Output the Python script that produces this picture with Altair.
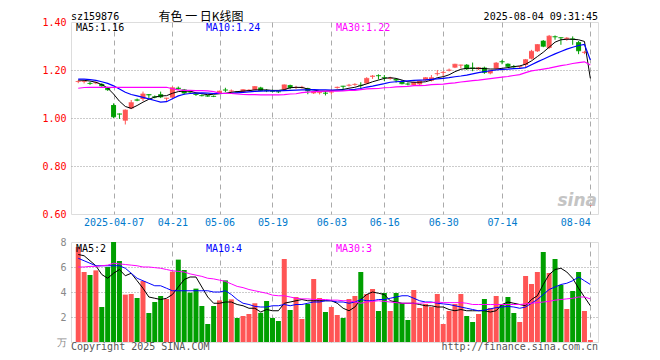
import json
import altair as alt
import pandas as pd

dates = ["03-27","03-28","03-31","04-01","04-02","04-03","04-07","04-08","04-09","04-10",
         "04-11","04-14","04-15","04-16","04-17","04-18","04-21","04-22","04-23","04-24",
         "04-25","04-28","04-29","04-30","05-06","05-07","05-08","05-09","05-12","05-13",
         "05-14","05-15","05-16","05-19","05-20","05-21","05-22","05-23","05-26","05-27",
         "05-28","05-29","05-30","06-03","06-04","06-05","06-06","06-09","06-10","06-11",
         "06-12","06-13","06-16","06-17","06-18","06-19","06-20","06-23","06-24","06-25",
         "06-26","06-27","06-30","07-01","07-02","07-03","07-04","07-07","07-08","07-09",
         "07-10","07-11","07-14","07-15","07-16","07-17","07-18","07-21","07-22","07-23",
         "07-24","07-25","07-28","07-29","07-30","07-31","08-01","08-04"]

opens = [1.150,1.150,1.146,1.145,1.142,1.128,1.054,1.018,0.989,1.040,
         1.077,1.079,1.099,1.090,1.099,1.081,1.085,1.126,1.119,1.110,
         1.101,1.095,1.094,1.092,1.102,1.118,1.111,1.110,1.109,1.113,
         1.117,1.127,1.115,1.113,1.111,1.119,1.137,1.125,1.126,1.124,
         1.103,1.104,1.105,1.107,1.125,1.134,1.135,1.138,1.138,1.144,
         1.172,1.178,1.170,1.164,1.162,1.154,1.143,1.137,1.140,1.157,
         1.155,1.183,1.188,1.198,1.210,1.219,1.222,1.210,1.203,1.210,
         1.186,1.206,1.236,1.226,1.216,1.212,1.221,1.247,1.278,1.322,
         1.292,1.340,1.336,1.330,1.331,1.316,1.272,0.635]
highs = [1.158,1.157,1.150,1.152,1.145,1.130,1.061,1.019,1.036,1.075,
         1.081,1.110,1.100,1.094,1.110,1.084,1.131,1.131,1.121,1.114,
         1.104,1.098,1.097,1.094,1.114,1.126,1.119,1.112,1.120,1.120,
         1.133,1.130,1.120,1.118,1.115,1.140,1.139,1.134,1.134,1.126,
         1.112,1.112,1.112,1.119,1.131,1.134,1.142,1.145,1.149,1.170,
         1.179,1.182,1.179,1.172,1.165,1.158,1.148,1.152,1.156,1.170,
         1.179,1.200,1.196,1.206,1.226,1.222,1.225,1.231,1.212,1.214,
         1.199,1.233,1.242,1.228,1.221,1.217,1.246,1.284,1.308,1.325,
         1.346,1.344,1.336,1.337,1.340,1.321,1.280,0.640]
lows = [1.145,1.144,1.138,1.141,1.130,1.113,1.000,0.996,0.973,1.037,
        1.070,1.071,1.082,1.082,1.083,1.071,1.083,1.118,1.098,1.104,
        1.092,1.090,1.088,1.087,1.100,1.108,1.104,1.105,1.105,1.110,
        1.115,1.112,1.108,1.106,1.104,1.117,1.120,1.121,1.122,1.099,
        1.100,1.098,1.094,1.098,1.122,1.117,1.131,1.134,1.124,1.142,
        1.163,1.161,1.154,1.160,1.148,1.140,1.136,1.133,1.137,1.155,
        1.152,1.176,1.172,1.194,1.208,1.207,1.200,1.195,1.200,1.184,
        1.182,1.202,1.224,1.210,1.209,1.208,1.211,1.244,1.275,1.295,
        1.288,1.326,1.305,1.322,1.305,1.266,1.266,0.634]
closes = [1.152,1.152,1.144,1.147,1.134,1.118,1.005,1.016,1.033,1.064,
          1.074,1.100,1.096,1.087,1.088,1.083,1.126,1.122,1.104,1.108,
          1.098,1.093,1.091,1.090,1.112,1.116,1.113,1.108,1.118,1.116,
          1.131,1.115,1.113,1.111,1.109,1.138,1.127,1.127,1.128,1.113,
          1.110,1.106,1.103,1.109,1.128,1.132,1.137,1.140,1.136,1.165,
          1.175,1.176,1.168,1.166,1.158,1.143,1.141,1.148,1.154,1.168,
          1.168,1.185,1.190,1.200,1.224,1.221,1.205,1.207,1.209,1.190,
          1.196,1.229,1.234,1.215,1.213,1.214,1.243,1.278,1.306,1.299,
          1.341,1.338,1.334,1.333,1.328,1.280,1.274,0.637]

ma5 = [1.158,1.157,1.154,1.149,1.139,1.125,1.100,1.070,1.048,1.040,
       1.052,1.066,1.078,1.087,1.092,1.093,1.103,1.110,1.112,1.112,
       1.105,1.101,1.097,1.099,1.101,1.103,1.107,1.110,1.112,1.114,
       1.117,1.117,1.117,1.115,1.115,1.118,1.126,1.128,1.127,1.121,
       1.117,1.112,1.112,1.114,1.117,1.119,1.124,1.128,1.135,1.142,
       1.151,1.158,1.165,1.168,1.165,1.158,1.151,1.149,1.149,1.151,
       1.158,1.168,1.172,1.180,1.193,1.203,1.207,1.207,1.207,1.206,
       1.204,1.204,1.207,1.210,1.214,1.217,1.224,1.238,1.256,1.274,
       1.295,1.316,1.326,1.328,1.328,1.326,1.319,1.165]
ma10 = [1.162,1.162,1.160,1.157,1.151,1.144,1.134,1.121,1.107,1.098,
        1.092,1.086,1.080,1.073,1.066,1.068,1.080,1.092,1.099,1.102,
        1.104,1.105,1.104,1.102,1.102,1.102,1.103,1.105,1.107,1.109,
        1.111,1.112,1.113,1.113,1.113,1.114,1.115,1.116,1.117,1.117,
        1.118,1.117,1.117,1.116,1.116,1.116,1.117,1.119,1.123,1.129,
        1.133,1.138,1.143,1.149,1.151,1.153,1.155,1.157,1.158,1.159,
        1.161,1.163,1.165,1.168,1.172,1.175,1.179,1.184,1.189,1.193,
        1.197,1.200,1.203,1.204,1.206,1.207,1.210,1.222,1.234,1.245,
        1.256,1.267,1.277,1.287,1.295,1.302,1.307,1.242]
ma30 = [1.124,1.127,1.128,1.128,1.128,1.128,1.128,1.128,1.128,1.128,
        1.128,1.128,1.128,1.128,1.128,1.128,1.122,1.117,1.115,1.115,
        1.114,1.114,1.113,1.110,1.104,1.103,1.102,1.100,1.098,1.097,
        1.097,1.096,1.096,1.096,1.096,1.097,1.100,1.101,1.106,1.108,
        1.110,1.111,1.112,1.112,1.112,1.113,1.115,1.115,1.118,1.121,
        1.122,1.123,1.126,1.127,1.130,1.131,1.132,1.135,1.135,1.136,
        1.139,1.140,1.141,1.144,1.146,1.150,1.153,1.156,1.158,1.161,
        1.164,1.167,1.170,1.173,1.177,1.181,1.189,1.196,1.200,1.204,
        1.208,1.213,1.218,1.222,1.227,1.231,1.234,1.221]

volume = [7.60,5.60,5.36,5.73,2.80,6.00,8.20,6.48,3.79,3.84,
          3.52,4.88,2.32,3.20,3.68,3.44,5.63,6.59,5.76,3.95,
          4.27,2.88,1.44,2.88,3.33,4.93,3.41,1.92,2.08,2.24,
          3.10,2.33,3.28,1.92,1.68,6.64,2.56,3.60,1.84,3.04,
          5.04,3.52,2.40,2.80,2.16,1.92,3.44,3.68,5.60,3.84,
          4.24,2.48,3.92,2.48,3.92,3.12,1.76,4.16,2.72,3.04,
          2.80,3.84,1.44,2.48,3.04,3.84,2.08,1.60,2.24,3.44,
          2.72,3.68,3.04,3.60,2.32,1.60,5.28,4.64,5.60,7.20,
          5.52,6.64,4.56,2.64,4.08,5.60,2.48,0.16]
vma5 = [7.0,6.9,6.5,6.1,5.4,5.1,5.5,5.8,5.3,5.5,
        4.9,4.3,3.6,3.5,3.4,3.5,3.8,4.4,5.0,5.2,
        5.2,4.4,3.6,3.1,3.1,3.2,3.2,3.0,2.9,2.7,
        2.7,2.4,2.6,2.5,2.5,3.1,3.2,3.3,3.4,3.3,
        3.3,3.3,3.3,3.3,3.1,2.7,2.5,2.8,3.4,3.8,
        4.0,3.9,3.8,3.3,3.2,3.1,3.1,3.1,3.0,2.9,
        2.9,2.8,2.8,2.6,2.5,2.6,2.5,2.5,2.5,2.5,
        2.4,2.5,3.0,3.2,3.1,3.0,2.9,3.4,3.7,4.6,
        5.4,5.8,5.9,5.6,5.1,4.3,3.6,2.9]
vma10 = [6.7,6.5,6.3,6.1,6.1,6.1,6.1,6.1,5.9,5.5,
         5.1,4.9,4.7,4.5,4.5,4.3,4.1,4.1,4.1,4.1,
         4.1,4.1,4.1,4.0,4.0,4.1,3.8,3.4,3.1,3.0,
         2.85,2.8,2.8,2.9,2.9,3.0,2.9,3.0,3.0,3.1,
         3.2,3.2,3.3,3.3,3.2,3.2,3.1,3.2,3.4,3.3,
         3.3,3.4,3.4,3.5,3.6,3.7,3.7,3.5,3.3,3.2,
         3.2,3.1,3.05,3.0,2.9,2.8,2.7,2.6,2.5,2.55,
         2.65,2.75,2.8,2.85,2.8,2.7,2.8,3.1,3.4,3.8,
         4.2,4.4,4.6,4.7,4.9,5.2,4.9,4.6]
vma30 = [6.0,6.0,6.05,6.05,6.1,6.15,6.3,6.25,6.2,6.15,
         6.1,6.0,6.0,5.95,5.9,5.8,5.7,5.65,5.6,5.45,
         5.35,5.25,5.1,5.05,4.95,4.85,4.65,4.45,4.35,4.2,
         4.1,4.0,3.9,3.75,3.7,3.7,3.6,3.5,3.45,3.45,
         3.4,3.4,3.4,3.35,3.35,3.3,3.3,3.2,3.1,3.2,
         3.25,3.3,3.25,3.2,3.15,3.1,3.1,3.1,3.1,3.15,
         3.15,3.2,3.15,3.15,3.15,3.15,3.1,3.0,3.0,3.0,
         3.0,3.0,3.0,3.0,3.0,3.0,3.05,3.1,3.15,3.2,
         3.25,3.35,3.4,3.45,3.5,3.6,3.6,3.45]

tick_idx = [6, 16, 24, 33, 43, 52, 62, 72, 87]
tick_labels = ["2025-04-07", "04-21", "05-06", "05-19", "06-03", "06-16", "06-30", "07-14", "08-04"]
price_ticks = [0.6, 0.8, 1.0, 1.2, 1.4]
vol_ticks = [0, 2, 4, 6, 8]

RED = "#ff5555"
GREEN = "#009f00"
BLUE_LBL = "#007acc"
MONO = "DejaVu Sans Mono"
CJK = "Noto Sans CJK SC"
W, H1, H2 = 527, 192, 100

df = pd.DataFrame({
    "i": list(range(len(dates))), "date": dates,
    "open": opens, "high": highs, "low": lows, "close": closes,
    "ma5": ma5, "ma10": ma10, "ma30": ma30,
    "vol": volume, "vma5": vma5, "vma10": vma10, "vma30": vma30,
})
df["dir"] = ["up" if c >= o else "down" for o, c in zip(opens, closes)]

xscale = alt.Scale(domain=[-0.38, 87.45], nice=False, zero=False)
color = alt.Color("dir:N", scale=alt.Scale(domain=["up", "down"], range=[RED, GREEN]), legend=None)
label_expr = f"{json.dumps(tick_labels)}[indexof({json.dumps(tick_idx)}, datum.value)]"

x_axis_top = alt.Axis(
    values=tick_idx, labelExpr=label_expr, grid=True, gridDash=[5, 4], gridColor="#aaaaaa",
    ticks=False, tickSize=0, domain=False, labelColor=BLUE_LBL, labelFont=MONO, labelFontSize=10,
    labelPadding=3, labelOverlap=False, labelFlush=False, labelBound=False,
    labelAlign={"condition": {"test": "datum.value == 87", "value": "right"}, "value": "center"})


def xt():
    return alt.X("i:Q", scale=xscale, title=None, axis=x_axis_top)


yscale = alt.Scale(domain=[0.6, 1.4], nice=False, zero=False)
y_axis = alt.Axis(values=price_ticks, format=".2f", labelColor="#ff0000", labelFont=MONO,
                  labelFontSize=10, labelPadding=5, ticks=False, tickSize=0, domain=False,
                  grid=True, gridDash=[1, 2], gridColor="#999999",
                  gridOpacity={"condition": {"test": "datum.value < 0.61 || datum.value > 1.39", "value": 0}, "value": 1})


def yp(field):
    return alt.Y(f"{field}:Q", scale=yscale, axis=y_axis, title=None)


base = alt.Chart(df)
wicks = base.mark_rule(strokeWidth=1).encode(x=xt(), y=yp("low"), y2="high:Q", color=color)
bodies = base.mark_bar(size=5).encode(x=xt(), y=yp("open"), y2="close:Q", color=color)
closes_t = base.mark_tick(orient="horizontal", size=5, thickness=1).encode(x=xt(), y=yp("close"), color=color)
l5 = base.mark_line(color="black", strokeWidth=1).encode(x=xt(), y=yp("ma5"))
l10 = base.mark_line(color="#0000ff", strokeWidth=1.2).encode(x=xt(), y=yp("ma10"))
l30 = base.mark_line(color="#ff00ff", strokeWidth=1.2).encode(x=xt(), y=yp("ma30"))


def txt(s, x, y, col="black", font=MONO, size=10, align="left", baseline="middle", **kw):
    return alt.Chart(pd.DataFrame({"t": [s]})).mark_text(
        align=align, baseline=baseline, font=font, fontSize=size, color=col, **kw
    ).encode(text="t:N", x=alt.value(x), y=alt.value(y))


top_texts = [
    txt("sz159876", 0, -10.5, baseline="top"),
    txt("有色 一 日K线图", 130, -10.5, font=CJK, size=12, align="center", baseline="top"),
    txt("2025-08-04 09:31:45", 527, -10.5, align="right", baseline="top"),
    txt("MA5:1.16", 5, 6),
    txt("MA10:1.24", 135, 6, col="#0000ff"),
    txt("MA30:1.22", 265, 6, col="#ff00ff"),
    txt("sina", 526, 184, col="#c4c4c4", font="DejaVu Sans", size=17, align="right",
        baseline="alphabetic", fontStyle="italic", fontWeight="bold"),
]

top = alt.layer(wicks, bodies, closes_t, l5, l10, l30, *top_texts).properties(width=W, height=H1)

x_axis_vol = alt.Axis(values=tick_idx, labels=False, grid=True, gridDash=[5, 4], gridColor="#aaaaaa",
                      ticks=False, tickSize=0, domain=False)


def xv():
    return alt.X("i:Q", scale=xscale, title=None, axis=x_axis_vol)


vscale = alt.Scale(domain=[0, 8], nice=False, zero=True)
v_axis = alt.Axis(values=vol_ticks, labelExpr="datum.value == 0 ? '万' : datum.label",
                  labelColor="#888888", labelFont=MONO, labelFontSize=10, labelPadding=5,
                  ticks=False, tickSize=0, domain=False, grid=True, gridDash=[1, 2], gridColor="#999999",
                  gridOpacity={"condition": {"test": "datum.value < 0.1 || datum.value > 7.9", "value": 0}, "value": 1})


def yv(field):
    return alt.Y(f"{field}:Q", scale=vscale, axis=v_axis, title=None)


vbars = base.mark_bar(size=5, clip=True).encode(x=xv(), y=yv("vol"), color=color)
v5 = base.mark_line(color="black", strokeWidth=1).encode(x=xv(), y=yv("vma5"))
v10 = base.mark_line(color="#0000ff", strokeWidth=1).encode(x=xv(), y=yv("vma10"))
v30 = base.mark_line(color="#ff00ff", strokeWidth=1).encode(x=xv(), y=yv("vma30"))

vol_texts = [
    txt("MA5:2", 5, 7),
    txt("MA10:4", 135, 7, col="#0000ff"),
    txt("MA30:3", 265, 7, col="#ff00ff"),
    txt("Copyright 2025 SINA.COM", 0, 108, col="#555555", baseline="alphabetic"),
    txt("http://finance.sina.com.cn", 527, 108, col="#555555", align="right", baseline="alphabetic"),
]

vol = alt.layer(vbars, v5, v10, v30, *vol_texts).properties(width=W, height=H2)

chart = alt.vconcat(top, vol, spacing=28, bounds="flush").properties(
    padding={"left": 33, "top": 2, "right": 5, "bottom": 2}
).configure_view(stroke="#999999", strokeWidth=1).configure(background="white")

chart.save("out.html", embed_options={"renderer": "svg", "actions": False})
